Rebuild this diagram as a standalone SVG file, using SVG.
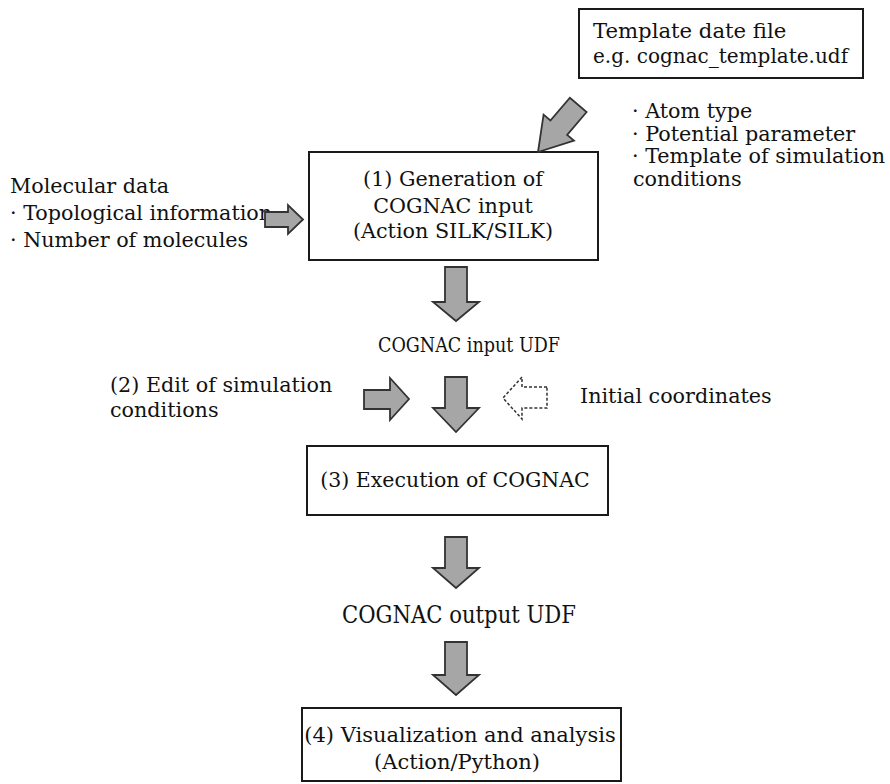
<svg xmlns="http://www.w3.org/2000/svg" width="890" height="784" viewBox="0 0 890 784">
<style>
text { font-family: "DejaVu Serif", "Liberation Serif", serif; fill: #111111; font-size: 20.7px; }
.box { fill: #ffffff; stroke: #1a1a1a; stroke-width: 2; }
.arr { fill: #a6a6a6; stroke: #333333; stroke-width: 1.8; stroke-linejoin: miter; }
.dash { fill: #ffffff; stroke: #333333; stroke-width: 1.5; stroke-dasharray: 3 2; }
.c { text-anchor: middle; }
</style>
<rect width="890" height="784" fill="#ffffff"/>

<g id="template">
  <rect class="box" x="579" y="9" width="284" height="69"/>
  <text x="593" y="38" style="font-size:21.2px">Template date file</text>
  <text x="593" y="63" style="font-size:20px">e.g. cognac_template.udf</text>
</g>

<g id="template-items">
  <text x="632" y="118">· Atom type</text>
  <text x="632" y="141">· Potential parameter</text>
  <text x="632" y="163">· Template of simulation</text>
  <text x="633" y="186">conditions</text>
</g>

<g id="molecular-data">
  <text x="10" y="193">Molecular data</text>
  <text x="10" y="220">· Topological information</text>
  <text x="10" y="247">· Number of molecules</text>
</g>

<g id="step1">
  <rect class="box" x="309" y="152" width="289" height="108"/>
  <text class="c" x="453" y="186">(1)  Generation of</text>
  <text class="c" x="453" y="213">COGNAC input</text>
  <text class="c" x="453" y="238">(Action SILK/SILK)</text>
</g>

<g id="input-udf">
  <text class="c" x="469" y="352" style="font-size:19.5px" textLength="182" lengthAdjust="spacingAndGlyphs">COGNAC input UDF</text>
</g>

<g id="step2">
  <text x="110" y="392">(2) Edit of simulation</text>
  <text x="110" y="417">conditions</text>
</g>

<g id="initial-coordinates">
  <text x="580" y="403">Initial coordinates</text>
</g>

<g id="step3">
  <rect class="box" x="307" y="446" width="301" height="69"/>
  <text class="c" x="455" y="487" style="font-size:20.5px">(3) Execution of COGNAC</text>
</g>

<g id="output-udf">
  <text class="c" x="459" y="623" style="font-size:23.5px" textLength="234" lengthAdjust="spacingAndGlyphs">COGNAC output UDF</text>
</g>

<g id="step4">
  <rect class="box" x="302" y="708" width="319" height="73"/>
  <text class="c" x="460" y="742" style="font-size:21px">(4) Visualization and analysis</text>
  <text class="c" x="457" y="769" style="font-size:21px">(Action/Python)</text>
</g>

<g id="connectors">
  <polygon class="arr" transform="translate(538,152) rotate(130.5)" points="-62,-11 -32,-11 -32,-20 0,0 -32,20 -32,11 -62,11"/>
  <path class="arr" d="M265,212 H288 V205 L303,219.5 L288,234 V227 H265 Z"/>
  <path class="arr" d="M445,267 H467 V302 H479 L456,321 L433,302 H445 Z"/>
  <path class="arr" d="M364,390 H390 V378 L409,399 L390,420 V409 H364 Z"/>
  <path class="arr" d="M445,377 H467 V408 H479 L456,432 L433,408 H445 Z"/>
  <path class="dash" d="M547,387 H522 V377 L503,398 L522,419 V408 H547 Z"/>
  <path class="arr" d="M445,537 H467 V568 H479 L456,588 L433,568 H445 Z"/>
  <path class="arr" d="M445,642 H467 V675 H479 L456,695 L433,675 H445 Z"/>
</g>
</svg>
